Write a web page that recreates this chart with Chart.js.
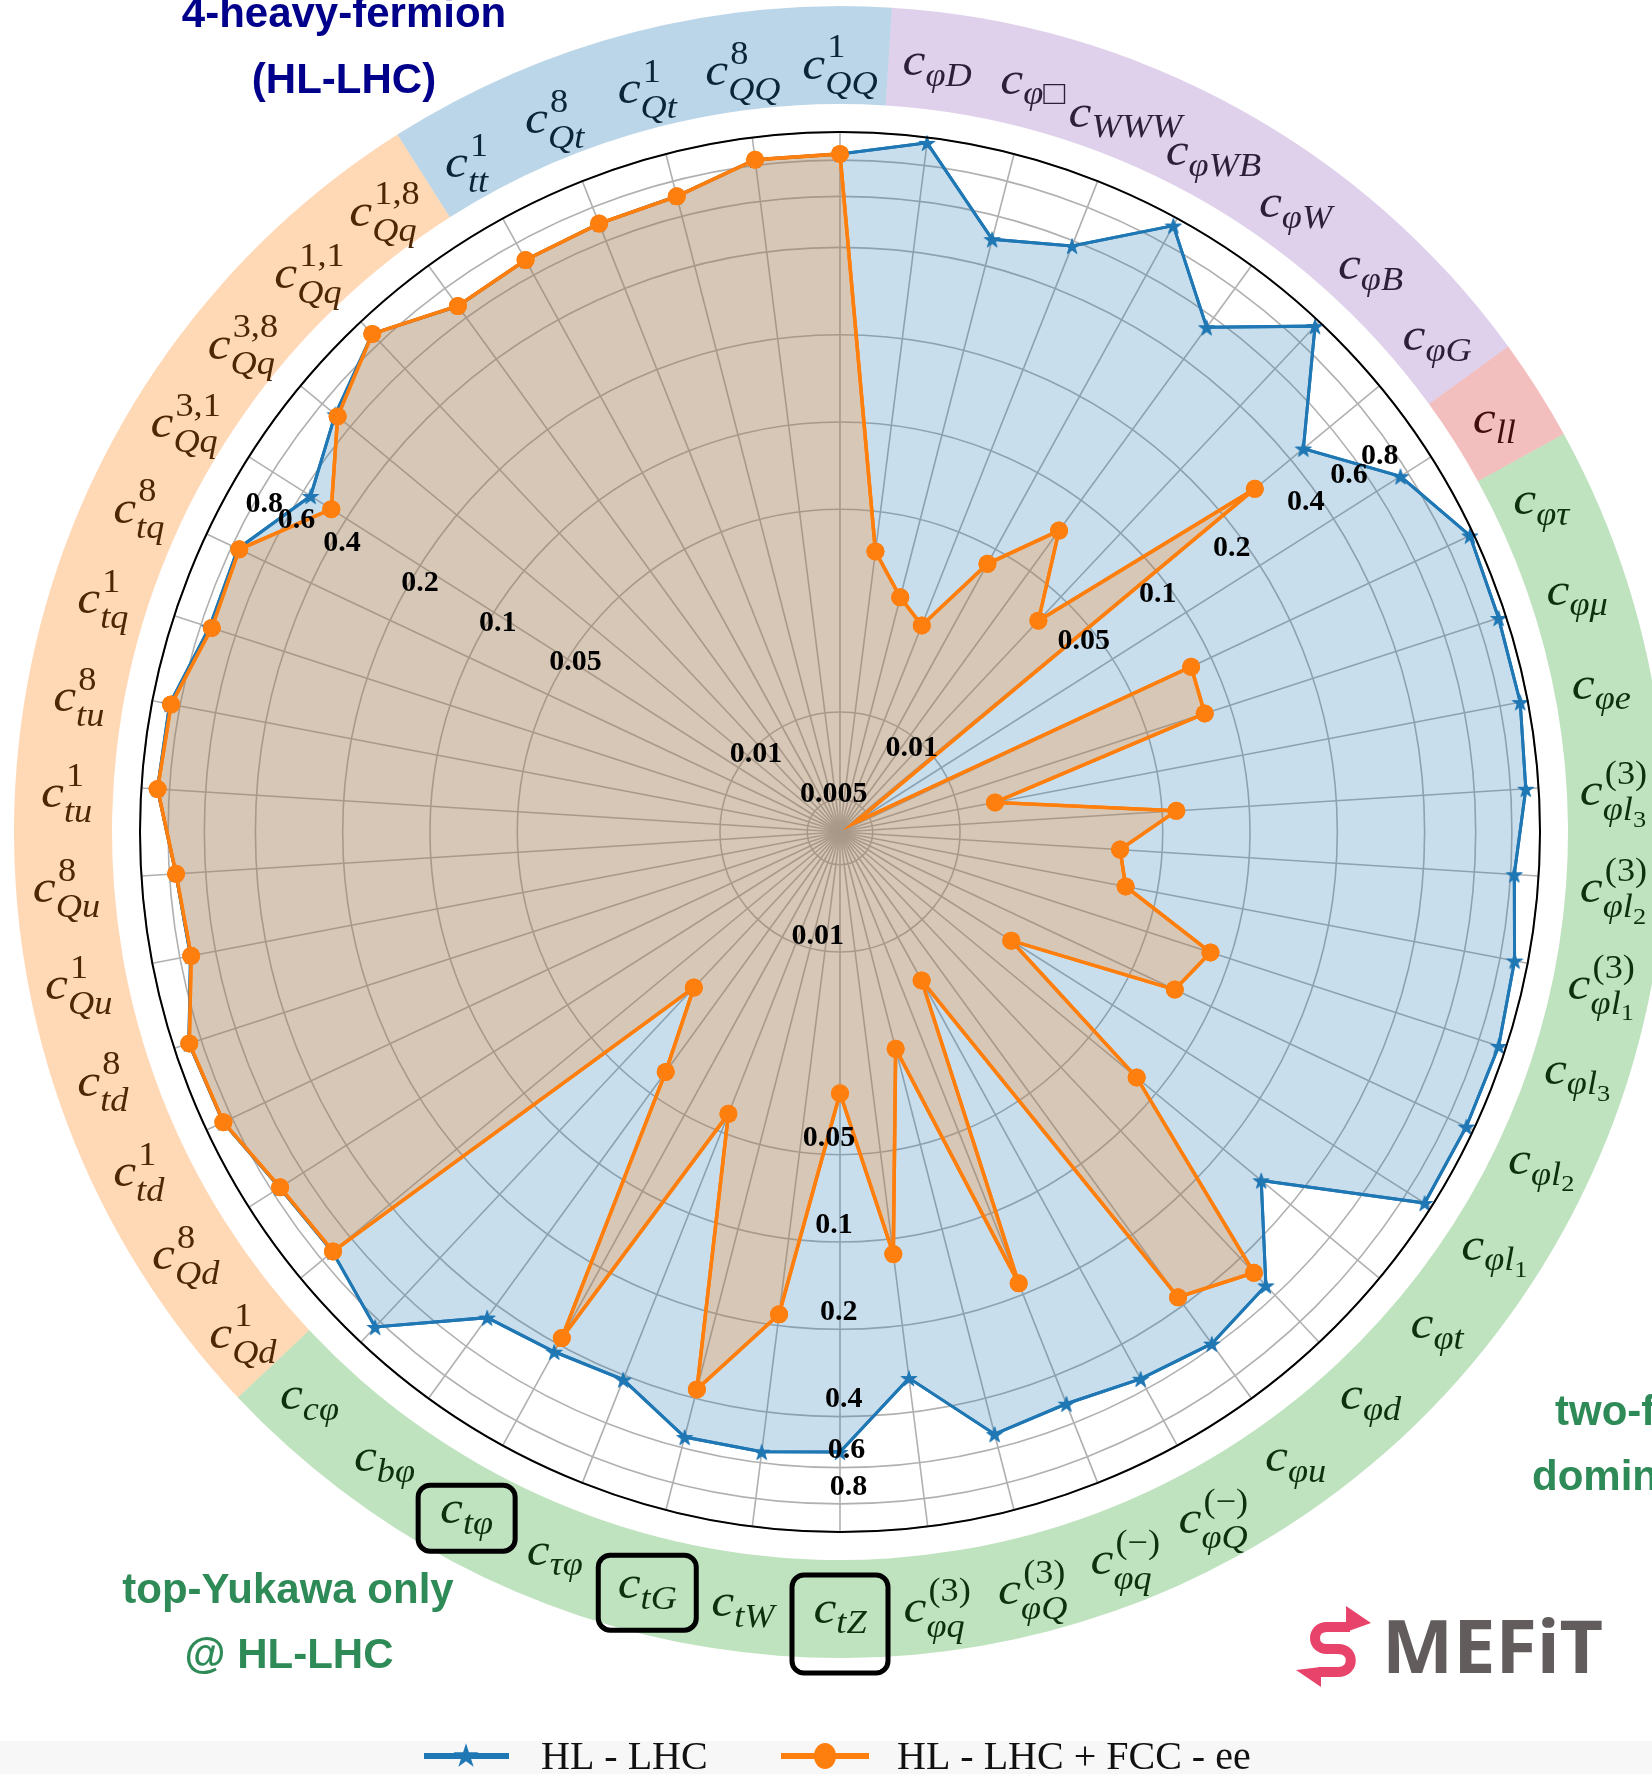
<!DOCTYPE html>
<html>
<head>
<meta charset="utf-8">
<script src="https://cdn.jsdelivr.net/npm/chart.js@4/dist/chart.umd.min.js"></script>
<style>
  html, body { margin: 0; padding: 0; background: #fff; overflow: hidden; }
  canvas { display: block; }
</style>
</head>
<body>
<canvas id="radar" width="1652" height="1774"></canvas>
<script>
// coefficient names, clockwise from the top
var categories = [
  'c^{1}_{QQ}', 'c_{φD}', 'c_{φ□}', 'c_{WWW}', 'c_{φWB}', 'c_{φW}', 'c_{φB}', 'c_{φG}', 'c_{ll}',
  'c_{φτ}', 'c_{φμ}', 'c_{φe}', 'c^{(3)}_{φl_3}', 'c^{(3)}_{φl_2}', 'c^{(3)}_{φl_1}',
  'c_{φl_3}', 'c_{φl_2}', 'c_{φl_1}', 'c_{φt}', 'c_{φd}', 'c_{φu}',
  'c^{(−)}_{φQ}', 'c^{(−)}_{φq}', 'c^{(3)}_{φQ}', 'c^{(3)}_{φq}',
  'c_{tZ}', 'c_{tW}', 'c_{tG}', 'c_{τφ}', 'c_{tφ}', 'c_{bφ}', 'c_{cφ}',
  'c^{1}_{Qd}', 'c^{8}_{Qd}', 'c^{1}_{td}', 'c^{8}_{td}', 'c^{1}_{Qu}', 'c^{8}_{Qu}',
  'c^{1}_{tu}', 'c^{8}_{tu}', 'c^{1}_{tq}', 'c^{8}_{tq}',
  'c^{3,1}_{Qq}', 'c^{3,8}_{Qq}', 'c^{1,1}_{Qq}', 'c^{1,8}_{Qq}',
  'c^{1}_{tt}', 'c^{8}_{Qt}', 'c^{1}_{Qt}', 'c^{8}_{QQ}'
];

// operator class of each coefficient (sets the coloured ring)
var categoryGroup = [
  '4H', 'EW', 'EW', 'EW', 'EW', 'EW', 'EW', 'EW', 'LL',
  '2F', '2F', '2F', '2F', '2F', '2F', '2F', '2F', '2F', '2F', '2F', '2F',
  '2F', '2F', '2F', '2F', '2F', '2F', '2F', '2F', '2F', '2F', '2F',
  '4F', '4F', '4F', '4F', '4F', '4F', '4F', '4F', '4F', '4F', '4F', '4F', '4F', '4F',
  '4H', '4H', '4H', '4H'
];

var hlLhc = [
  0.84, 0.958, 0.497, 0.575, 0.938, 0.546, 0.953, 0.457, 0.75,
  0.97, 0.942, 0.942, 0.903, 0.824, 0.90,
  0.943, 0.94, 0.942, 0.296, 0.539, 0.585,
  0.547, 0.509, 0.537, 0.305,
  0.53, 0.55, 0.55, 0.414, 0.428, 0.453, 0.847,
  0.72, 0.75, 0.865, 0.885, 0.735, 0.76,
  0.88, 0.87, 0.745, 0.76,
  0.56, 0.70, 0.876, 0.673,
  0.687, 0.696, 0.707, 0.837
];

var hlLhcFccee = [
  0.84, 0.0364, 0.0264, 0.0225, 0.0438, 0.0743, 0.0385, 0.277, 0.0044,
  0.084, 0.081, 0.0135, 0.056, 0.0358, 0.0388,
  0.085, 0.0728, 0.0193, 0.082, 0.469, 0.371,
  0.0148, 0.182, 0.0228, 0.113,
  0.0307, 0.183, 0.372, 0.0428, 0.378, 0.0406, 0.021,
  0.716, 0.746, 0.863, 0.882, 0.731, 0.759,
  0.879, 0.86, 0.731, 0.751,
  0.461, 0.683, 0.876, 0.673,
  0.687, 0.696, 0.707, 0.837
];

var tickValues = [0.005, 0.01, 0.05, 0.1, 0.2, 0.4, 0.6, 0.8];
var tickLabels = ['0.005', '0.01', '0.05', '0.1', '0.2', '0.4', '0.6', '0.8'];

var rMin = -2.414;   // log10 of the value at the centre
var rMax = 0;        // log10(1)

var ringColors = {
  '4H': 'rgba(31,119,180,0.3)',
  'EW': 'rgba(148,103,189,0.3)',
  'LL': 'rgba(214,39,40,0.3)',
  '2F': 'rgba(44,160,44,0.3)',
  '4F': 'rgba(255,127,14,0.3)'
};
var labelColors = { '4H': '#0b2538', 'EW': '#2c1f39', 'LL': '#420d0d', '2F': '#0d300d', '4F': '#4d2604' };
var boxed = [ { index: 29, w: 97, h: 66, dy: -3 }, { index: 27, w: 98, h: 75, dy: 0 }, { index: 25, w: 96, h: 98, dy: 7 } ];

var SERIF = '"Liberation Serif", "DejaVu Serif", serif';
var SANS = '"Liberation Sans", Arial, sans-serif';

function toLog(v) { return Math.log10(v); }

function parseLabel(s) {
  var m = s.match(/^([^_^]+)(?:\^\{([^}]*)\})?(?:_\{([^}]*)\})?$/);
  var sub = m[3] || '', subsub = '';
  var k = sub.indexOf('_');
  if (k >= 0) { subsub = sub.slice(k + 1); sub = sub.slice(0, k); }
  return { base: m[1], sup: m[2] || '', sub: sub, subsub: subsub };
}

function glyphFont(ch, size) {
  var upright = /[0-9(),−+□]/.test(ch);
  return (upright ? '' : 'italic ') + size + 'px ' + SERIF;
}

function measureRun(ctx, text, size) {
  var w = 0, asc = 0, desc = 0;
  for (var ch of text) {
    ctx.font = glyphFont(ch, size);
    var m = ctx.measureText(ch);
    w += m.width;
    asc = Math.max(asc, m.actualBoundingBoxAscent);
    desc = Math.max(desc, m.actualBoundingBoxDescent);
  }
  return { w: w, asc: asc, desc: desc };
}

function drawRun(ctx, text, size, x, y) {
  for (var ch of text) {
    ctx.font = glyphFont(ch, size);
    ctx.fillText(ch, x, y);
    x += ctx.measureText(ch).width;
  }
  return x;
}

function drawMathLabel(ctx, label, x, y, color) {
  var p = parseLabel(label);
  var F = 47, S = Math.round(F * 0.7), SS = Math.round(F * 0.5), stretch = 1.1;
  ctx.textAlign = 'left';
  ctx.textBaseline = 'alphabetic';
  var base = measureRun(ctx, p.base, F);
  var sup = measureRun(ctx, p.sup, S);
  var sub = measureRun(ctx, p.sub, S);
  var ss = measureRun(ctx, p.subsub, SS);
  var subY = p.sup ? 0.32 * F : 0.22 * F;
  var supY = -0.45 * F;
  var ssY = subY + 0.14 * F;
  var width = base.w + Math.max(p.sup ? sup.w + 0.04 * F : 0, sub.w + ss.w);
  var top = -base.asc, bottom = base.desc;
  if (p.sup) top = Math.min(top, supY - sup.asc);
  if (p.sub) { top = Math.min(top, subY - sub.asc); bottom = Math.max(bottom, subY + sub.desc); }
  if (p.subsub) bottom = Math.max(bottom, ssY + ss.desc);
  ctx.save();
  ctx.translate(x, y - (top + bottom) / 2);
  ctx.scale(stretch, 1);
  var x0 = -width / 2;
  ctx.fillStyle = color;
  drawRun(ctx, p.base, F, x0, 0);
  if (p.sup) drawRun(ctx, p.sup, S, x0 + base.w + 0.04 * F, supY);
  var xe = drawRun(ctx, p.sub, S, x0 + base.w, subY);
  if (p.subsub) drawRun(ctx, p.subsub, SS, xe, ssY);
  ctx.restore();
}

function starImage(size, color) {
  var c = document.createElement('canvas');
  c.width = c.height = size;
  var g = c.getContext('2d');
  g.fillStyle = color;
  g.beginPath();
  for (var k = 0; k < 10; k++) {
    var r = k % 2 ? size * 0.19 : size * 0.5;
    var a = -Math.PI / 2 + k * Math.PI / 5;
    g.lineTo(size / 2 + r * Math.cos(a), size / 2 + size * 0.05 + r * Math.sin(a));
  }
  g.closePath();
  g.fill();
  return c;
}

function roundRect(ctx, x, y, w, h, r) {
  ctx.beginPath();
  ctx.moveTo(x + r, y);
  ctx.arcTo(x + w, y, x + w, y + h, r);
  ctx.arcTo(x + w, y + h, x, y + h, r);
  ctx.arcTo(x, y + h, x, y, r);
  ctx.arcTo(x, y, x + w, y, r);
  ctx.closePath();
}

var decor = {
  id: 'decor',
  beforeDraw: function (chart) {
    var ctx = chart.ctx, s = chart.scales.r;
    var cx = s.xCenter, cy = s.yCenter, n = categories.length;
    var step = 2 * Math.PI / n;
    ctx.save();
    // coloured ring: one sector for each run of the same group
    for (var i = 0; i < n; i++) {
      var g = categoryGroup[i];
      if (categoryGroup[(i + n - 1) % n] === g) continue;
      var j = i;
      while (categoryGroup[(j + 1) % n] === g) j++;
      var a0 = s.getIndexAngle(i) - Math.PI / 2 - step / 2;
      var a1 = a0 + (j - i + 1) * step;
      ctx.beginPath();
      ctx.arc(cx, cy, 826, a0, a1);
      ctx.arc(cx, cy, 728, a1, a0, true);
      ctx.closePath();
      ctx.fillStyle = ringColors[g];
      ctx.fill();
    }
    ctx.restore();
  },
  afterDraw: function (chart) {
    var ctx = chart.ctx, s = chart.scales.r;
    var cx = s.xCenter, cy = s.yCenter;
    ctx.save();
    // lines and markers again, above the grid (fills stay below it)
    chart.getSortedVisibleDatasetMetas().slice().reverse().forEach(function (meta) {
      meta.controller.draw();
    });

    ctx.strokeStyle = '#000';
    ctx.lineWidth = 2;
    ctx.beginPath();
    ctx.arc(cx, cy, s.getDistanceFromCenterForValue(rMax), 0, 2 * Math.PI);
    ctx.stroke();

    // radial tick labels, three copies
    var sets = [
      { angle: 297, dx: 23, dy: -23, from: 0 },
      { angle: 58, dx: -30, dy: -20, from: 1 },
      { angle: 176.8, dx: -29, dy: -16, from: 1 }
    ];
    ctx.fillStyle = '#000';
    ctx.font = 'bold 30px ' + SERIF;
    ctx.textAlign = 'center';
    ctx.textBaseline = 'middle';
    sets.forEach(function (set) {
      var th = set.angle * Math.PI / 180;
      for (var k = set.from; k < tickValues.length; k++) {
        var d = s.getDistanceFromCenterForValue(toLog(tickValues[k]));
        ctx.fillText(tickLabels[k], cx + d * Math.sin(th) + set.dx, cy - d * Math.cos(th) + set.dy);
      }
    });

    // coefficient labels
    categories.forEach(function (lab, i) {
      var p = s.getPointPosition(i, 775);
      drawMathLabel(ctx, lab, p.x, p.y + 10, labelColors[categoryGroup[i]]);
    });
    ctx.strokeStyle = '#000';
    ctx.lineWidth = 5;
    boxed.forEach(function (b) {
      var p = s.getPointPosition(b.index, 775);
      roundRect(ctx, p.x - b.w / 2, p.y + 10 + b.dy - b.h / 2, b.w, b.h, 12);
      ctx.stroke();
    });

    // annotations
    ctx.textAlign = 'center';
    ctx.textBaseline = 'alphabetic';
    ctx.font = 'bold 42px ' + SANS;
    ctx.fillStyle = '#00008b';
    ctx.fillText('4-heavy-fermion', 344, 27);
    ctx.fillText('(HL-LHC)', 344, 93);
    ctx.fillStyle = '#2e8b57';
    ctx.fillText('top-Yukawa only', 288, 1603);
    ctx.fillText('@ HL-LHC', 289, 1668);
    ctx.textAlign = 'left';
    ctx.fillText('two-fermion', 1555, 1425);
    ctx.fillText('dominated', 1532, 1490);

    // SMEFiT logo
    ctx.strokeStyle = '#e8436a';
    ctx.fillStyle = '#e8436a';
    ctx.lineWidth = 10;
    ctx.beginPath();
    ctx.moveTo(1350, 1627);
    ctx.lineTo(1327, 1627);
    ctx.bezierCurveTo(1311, 1627, 1311, 1649, 1327, 1649);
    ctx.lineTo(1338, 1649);
    ctx.bezierCurveTo(1355, 1649, 1355, 1672, 1338, 1672);
    ctx.lineTo(1318, 1672);
    ctx.stroke();
    ctx.beginPath();
    ctx.moveTo(1346, 1606); ctx.lineTo(1371, 1623); ctx.lineTo(1346, 1632); ctx.closePath(); ctx.fill();
    ctx.beginPath();
    ctx.moveTo(1321, 1667); ctx.lineTo(1296, 1670); ctx.lineTo(1321, 1687); ctx.closePath(); ctx.fill();
    ctx.fillStyle = '#625c5c';
    ctx.font = 'bold 74px "Noto Sans", ' + SANS;
    var mw = ctx.measureText('MEFiT').width;
    ctx.translate(1382, 1673);
    ctx.scale(221 / mw, 1);
    ctx.fillText('MEFiT', 0, 0);
    ctx.setTransform(1, 0, 0, 1, 0, 0);

    // legend
    ctx.fillStyle = '#f7f7f7';
    ctx.fillRect(0, 1741, 1652, 33);
    var ds = chart.data.datasets;
    ctx.lineWidth = 6;
    ctx.strokeStyle = ds[0].borderColor;
    ctx.beginPath(); ctx.moveTo(424, 1756); ctx.lineTo(509, 1756); ctx.stroke();
    ctx.drawImage(legendStar, 466 - 13, 1756 - 14);
    ctx.strokeStyle = ds[1].borderColor;
    ctx.beginPath(); ctx.moveTo(781, 1756); ctx.lineTo(869, 1756); ctx.stroke();
    ctx.fillStyle = ds[1].borderColor;
    ctx.beginPath(); ctx.ellipse(825, 1756, 11, 13, 0, 0, 2 * Math.PI); ctx.fill();
    ctx.fillStyle = '#111';
    ctx.font = '40px ' + SERIF;
    ctx.textBaseline = 'middle';
    ctx.fillText('HL - LHC', 541, 1758);
    ctx.fillText('HL - LHC + FCC - ee', 897, 1758);
    ctx.restore();
  }
};

var legendStar = starImage(26, '#1f77b4');
var star = starImage(18, '#1f77b4');

// markers below the lowest ring fall outside the plotted range and are not shown
function markerRadius(size) {
  return function (c) { return c.raw < toLog(tickValues[0]) ? 0 : size; };
}

var ctx = document.getElementById('radar').getContext('2d');
new Chart(ctx, {
  type: 'radar',
  data: {
    labels: categories,
    datasets: [
      {
        label: 'HL-LHC',
        data: hlLhc.map(toLog),
        borderColor: '#1f77b4',
        backgroundColor: 'rgba(31,119,180,0.24)',
        borderWidth: 3,
        pointStyle: star,
        pointRadius: markerRadius(8),
        fill: 'start',
        order: 2
      },
      {
        label: 'HL-LHC + FCC-ee',
        data: hlLhcFccee.map(toLog),
        borderColor: '#ff7f0e',
        backgroundColor: 'rgba(255,127,14,0.25)',
        borderWidth: 3.5,
        pointStyle: 'circle',
        pointRadius: markerRadius(9),
        pointBackgroundColor: '#ff7f0e',
        pointBorderWidth: 0,
        fill: 'start',
        order: 1
      }
    ]
  },
  options: {
    responsive: false,
    animation: false,
    events: [],
    layout: { padding: { left: 140, right: 112, top: 132, bottom: 242 } },
    elements: { line: { tension: 0 } },
    plugins: {
      legend: { display: false },
      tooltip: { enabled: false },
      title: { display: false }
    },
    scales: {
      r: {
        min: rMin,
        max: rMax,
        startAngle: 0,
        ticks: { display: false, z: 1 },
        pointLabels: { display: false },
        grid: { circular: true, color: '#b0b0b0', lineWidth: 1.6 },
        angleLines: { color: '#b0b0b0', lineWidth: 1.6 },
        afterBuildTicks: function (scale) {
          scale.ticks = [rMin].concat(tickValues.map(toLog), [rMax]).map(function (v) { return { value: v }; });
        }
      }
    }
  },
  plugins: [decor]
});
</script>
</body>
</html>
